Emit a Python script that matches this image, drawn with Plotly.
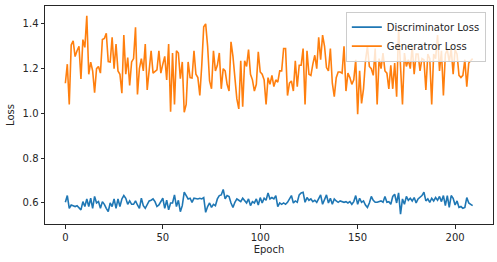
import plotly.graph_objects as go

epochs = list(range(210))

disc_loss = [
    0.603, 0.633, 0.576, 0.591, 0.588, 0.584, 0.588, 0.580, 0.569, 0.606,
    0.584, 0.618, 0.584, 0.621, 0.576, 0.629, 0.600, 0.606, 0.576, 0.606,
    0.594, 0.576, 0.561, 0.600, 0.584, 0.618, 0.576, 0.618, 0.584, 0.618,
    0.633, 0.621, 0.594, 0.609, 0.594, 0.594, 0.609, 0.591, 0.576, 0.621,
    0.588, 0.576, 0.594, 0.609, 0.612, 0.618, 0.606, 0.584, 0.591, 0.606,
    0.621, 0.576, 0.612, 0.569, 0.600, 0.600, 0.636, 0.584, 0.612, 0.561,
    0.588, 0.648, 0.629, 0.618, 0.621, 0.603, 0.621, 0.618, 0.618, 0.621,
    0.618, 0.624, 0.558, 0.584, 0.600, 0.580, 0.594, 0.588, 0.618, 0.633,
    0.636, 0.660, 0.618, 0.633, 0.629, 0.600, 0.580, 0.603, 0.618, 0.612,
    0.606, 0.621, 0.609, 0.600, 0.618, 0.588, 0.606, 0.600, 0.618, 0.591,
    0.624, 0.600, 0.621, 0.612, 0.645, 0.618, 0.624, 0.618, 0.633, 0.584,
    0.600, 0.594, 0.600, 0.594, 0.603, 0.621, 0.633, 0.600, 0.609, 0.603,
    0.636, 0.645, 0.648, 0.603, 0.624, 0.612, 0.618, 0.606, 0.612, 0.603,
    0.621, 0.636, 0.594, 0.612, 0.636, 0.600, 0.621, 0.594, 0.618, 0.609,
    0.603, 0.609, 0.606, 0.603, 0.606, 0.600, 0.606, 0.594, 0.606, 0.633,
    0.594, 0.621, 0.603, 0.609, 0.591, 0.580, 0.600, 0.629, 0.612, 0.603,
    0.603, 0.606, 0.609, 0.603, 0.629, 0.603, 0.606, 0.594, 0.629, 0.639,
    0.600, 0.645, 0.550, 0.618, 0.594, 0.629, 0.612, 0.621, 0.609, 0.624,
    0.600, 0.618, 0.624, 0.633, 0.648, 0.609, 0.618, 0.603, 0.621, 0.609,
    0.624, 0.612, 0.629, 0.606, 0.633, 0.588, 0.633, 0.580, 0.633, 0.621,
    0.591, 0.609, 0.580, 0.584, 0.576, 0.580, 0.624, 0.600, 0.594, 0.588,
]

gen_loss = [
    1.135, 1.220, 1.040, 1.306, 1.324, 1.254, 1.280, 1.300, 1.154, 1.330,
    1.295, 1.436, 1.175, 1.229, 1.190, 1.093, 1.200, 1.210, 1.180, 1.330,
    1.335, 1.358, 1.232, 1.230, 1.340, 1.200, 1.310, 1.190, 1.175, 1.090,
    1.350, 1.175, 1.250, 1.125, 1.230, 1.245, 1.385, 1.085, 1.200, 1.245,
    1.190, 1.310, 1.105, 1.210, 1.280, 1.180, 1.190, 1.195, 1.280, 1.180,
    1.220, 1.255, 1.150, 1.310, 1.008, 1.270, 1.040, 1.280, 1.270, 1.155,
    1.230, 1.005, 1.040, 1.230, 1.160, 1.158, 1.280, 1.175, 1.160, 1.080,
    1.215, 1.387, 1.400, 1.300, 1.145, 1.110, 1.280, 1.190, 1.215, 1.270,
    1.110, 1.200, 1.190, 1.130, 1.100, 1.320, 1.255, 1.145, 1.065, 1.020,
    1.235, 1.030, 1.235, 1.210, 1.285, 1.175, 1.150, 1.100, 1.130, 1.275,
    1.185, 1.175, 1.150, 1.040, 1.160, 1.130, 1.170, 1.120, 1.150, 1.140,
    1.190, 1.190, 1.290, 1.290, 1.080, 1.135, 1.145, 1.100, 1.235, 1.120,
    1.215, 1.215, 1.290, 1.040, 1.280, 1.175, 1.170, 1.220, 1.260, 1.200,
    1.340, 1.240, 1.350, 1.300, 1.205, 1.190, 1.290, 1.135, 1.075, 1.160,
    1.185, 1.185, 1.180, 1.300, 1.100, 1.180, 1.160, 1.130, 1.150, 1.240,
    0.996, 1.190, 1.045, 1.110, 1.235, 1.300, 1.210, 1.200, 1.170, 1.290,
    1.040, 1.245, 1.200, 1.270, 1.190, 1.180, 1.110, 1.215, 1.110, 1.225,
    1.075, 1.380, 1.190, 1.040, 1.270, 1.210, 1.240, 1.200, 1.300, 1.175,
    1.265, 1.265, 1.190, 1.245, 1.240, 1.105, 1.265, 1.245, 1.040, 1.265,
    1.245, 1.350, 1.190, 1.280, 1.080, 1.265, 1.285, 1.230, 1.290, 1.175,
    1.285, 1.265, 1.170, 1.160, 1.170, 1.240, 1.120, 1.225, 1.235, 1.245,
]

x_ticks = [0, 50, 100, 150, 200]
y_ticks = [0.6, 0.8, 1.0, 1.2, 1.4]

fig = go.Figure()
fig.add_trace(go.Scatter(x=epochs, y=disc_loss, mode="lines", name="Discriminator Loss",
                         line=dict(color="#1f77b4", width=1.6)))
fig.add_trace(go.Scatter(x=epochs, y=gen_loss, mode="lines", name="Generatror Loss",
                         line=dict(color="#ff7f0e", width=1.6)))

axis_common = dict(
    showgrid=False, zeroline=False, showline=True, mirror=True,
    linecolor="#262626", linewidth=1, ticks="outside", ticklen=3.5,
    tickcolor="#262626", tickwidth=1,
    tickfont=dict(family="DejaVu Sans", size=10, color="#262626"),
)

fig.update_layout(
    width=497, height=262,
    margin=dict(l=45, r=4, t=6, b=38),
    paper_bgcolor="white", plot_bgcolor="white",
    font=dict(family="DejaVu Sans", size=10, color="#262626"),
    xaxis=dict(range=[-10.45, 219.45], tickvals=x_ticks,
               title=dict(text="Epoch", standoff=4, font=dict(size=10)), **axis_common),
    yaxis=dict(range=[0.506, 1.48], tickvals=y_ticks, tickformat=".1f",
               title=dict(text="Loss", standoff=6, font=dict(size=10)), **axis_common),
    legend=dict(x=0.984, y=0.974, xanchor="right", yanchor="top",
                bgcolor="rgba(255,255,255,0.8)", bordercolor="#cccccc", borderwidth=1,
                font=dict(family="DejaVu Sans", size=10, color="#262626"),
                tracegroupgap=0, itemwidth=30),
    showlegend=True,
)

fig.write_html("out.html")
